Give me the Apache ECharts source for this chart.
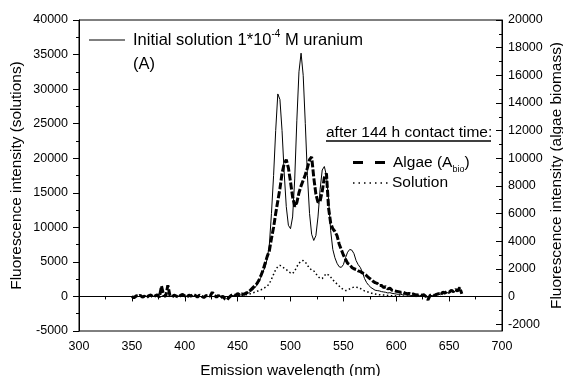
<!DOCTYPE html>
<html>
<head>
<meta charset="utf-8">
<script src="https://cdn.jsdelivr.net/npm/echarts@6/dist/echarts.min.js"></script>
<style>
html,body{margin:0;padding:0;background:#fff;}
#chart{width:563px;height:376px;}
</style>
</head>
<body>
<div id="chart"></div>
<script>
// ---- data ----
// Algae (A_bio), right axis units, sampled every 2 nm from 350 nm
const algaeStart = 350, algaeStep = 2;
const algaeValues = [
  0, -100, 50, 0, 80, -50, 20, -80, 60, 100,
  -30, 40, 120, -60, 750, 100, 0, 800, 60, -40,
  100, 30, -60, 80, 150, 40, -50, 100, 20, 150,
  60, -40, 90, 10, -80, 50, 80, 20, 300, 100,
  -50, 80, -120, 30, -180, -250, -60, 80, 150, 60,
  200, 120, 180,
  150, 250, 300, 450, 600, 750, 900, 1150, 1500, 1900,
  2400, 2900, 3300, 4200, 5000, 6000, 6900, 7800, 8900, 9600,
  9900, 9300, 8300, 7200, 6500, 6800, 7500, 8000, 8400, 8800,
  9300, 9900, 10100, 8600, 7400, 6800, 6900, 7600, 8600, 8900,
  6400, 5300, 4900, 4700, 4400, 3800, 3400, 3000, 2700, 2400,
  2300, 2100, 2000, 1950, 1850, 1800, 1700, 1650, 1500, 1350,
  1250, 1100, 1000, 950, 800, 800, 650, 700, 550, 600,
  450, 420, 380,
  350, 300, 320, 250, 200, 220, 150, 180, 120, 100,
  150, 80, 120, 0, -250, 80, 100, 60, 150, 200,
  120, 300, 250, 350, 300, 450, 350, 500, 400, 650, 200
];
// Initial solution 1*10^-4 M uranium, left axis units, every 2 nm from 440 nm
const initialStart = 440, initialStep = 2;
const initialValues = [
  -200, 0, 100, 150, 100, 200, 200, 250, 300, 400,
  500, 700, 900, 1200, 1600, 2100, 2800, 3600, 4200, 5500,
  7500, 12000, 17500, 24000, 29300, 28500, 24000, 18000, 13000, 10300,
  9800, 11500, 17000, 25500, 32500, 35200, 32000, 25000, 17500, 12000,
  9000, 8100, 8800, 11500, 15500, 18300, 18800, 17500, 14000, 9500,
  6800, 5600, 4800, 4300, 4200, 4600, 5600, 6400, 6800, 6700,
  6200, 5200, 4600, 4200, 3500, 2600, 2000, 1600, 1300, 1100,
  900, 850, 800, 700, 650, 600, 500, 550, 450, 400,
  350, 300, 300, 250, 250, 200, 200, 150, 150, 100,
  100, 150, 100, 100, 50, -300, 100, 150, 100, 200,
  300, 250, 450, 400, 550, 500, 700, 600, 800, 700,
  1100, 400
];
// Solution after 144 h, left axis units, every 2 nm from 450 nm
const solutionStart = 450, solutionStep = 2;
const solutionValues = [
  100, 120, 150, 200, 250, 300, 400, 500, 600, 700,
  850, 950, 1100, 1300, 1500, 1850, 2500, 3200, 3900, 4300,
  4500, 4300, 4100, 3900, 3600, 3400, 3300, 3700, 4300, 4800,
  5100, 5200, 5000, 4500, 4100, 3800, 3700, 3300, 2900, 2600,
  2600, 3000, 3300, 3100, 2800, 2400, 2100, 1800, 1500, 1200,
  1000, 850, 900, 1100, 1250, 1350, 1350, 1300, 1150, 950,
  800, 700, 600, 500, 400, 350, 300, 250, 220, 200,
  180, 150, 130, 100, 90, 80, 70, 60, 50, 40,
  30, 30, 20, 20, 10, 0
];
// axis ticks
const xTicks = [300, 350, 400, 450, 500, 550, 600, 650, 700];
const leftTicks = [-5000, 0, 5000, 10000, 15000, 20000, 25000, 30000, 35000, 40000];
const rightTicks = [-2000, 0, 2000, 4000, 6000, 8000, 10000, 12000, 14000, 16000, 18000, 20000];
const rightMinorTicks = [-1000, 1000, 3000, 5000, 7000, 9000, 11000, 13000, 15000, 17000, 19000];

function toPairs(start, step, values) {
  return values.map((v, i) => [start + i * step, v]);
}
const plain = v => String(v);

const FONT = '"Liberation Sans", Arial, sans-serif';
const chart = echarts.init(document.getElementById('chart'), null, {renderer: 'canvas'});

chart.setOption({
  animation: false,
  backgroundColor: '#fff',
  grid: {left: 79, right: 61, top: 20, bottom: 45, containLabel: false, outerBoundsMode: 'none',
    show: true, borderColor: '#000', borderWidth: 1, backgroundColor: 'transparent'},
  textStyle: {fontFamily: FONT},
  xAxis: {
    type: 'value', min: xTicks[0], max: xTicks[xTicks.length - 1], interval: 50,
    name: 'Emission wavelength (nm)', nameLocation: 'middle', nameGap: 32, nameMoveOverlap: false,
    nameTextStyle: {fontSize: 15.4, color: '#000', fontFamily: FONT},
    axisLine: {lineStyle: {color: '#000', width: 1}},
    axisTick: {show: true, length: 5, lineStyle: {color: '#000'}},
    minorTick: {show: true, splitNumber: 2, length: 3, lineStyle: {color: '#000'}},
    splitLine: {show: false},
    axisLabel: {fontSize: 12.5, color: '#000', margin: 9, fontFamily: FONT, formatter: plain}
  },
  yAxis: [
    {
      type: 'value', position: 'left', min: leftTicks[0], max: leftTicks[leftTicks.length - 1], interval: 5000,
      name: 'Fluorescence intensity (solutions)', nameLocation: 'middle', nameGap: 55, nameRotate: 90, nameMoveOverlap: false,
      nameTextStyle: {fontSize: 15.4, color: '#000', fontFamily: FONT},
      axisLine: {show: true, lineStyle: {color: '#000', width: 1}},
      axisTick: {show: true, length: 6, lineStyle: {color: '#000'}},
      minorTick: {show: true, splitNumber: 2, length: 3, lineStyle: {color: '#000'}},
      splitLine: {show: false},
      axisLabel: {fontSize: 12.5, color: '#000', margin: 11, fontFamily: FONT, formatter: plain}
    },
    {
      type: 'value', position: 'right', min: -2500, max: 20000,
      name: 'Fluorescence intensity (algae biomass)', nameLocation: 'middle', nameGap: 47, nameRotate: 90, nameMoveOverlap: false,
      nameTextStyle: {fontSize: 15.4, color: '#000', fontFamily: FONT},
      axisLine: {show: true, lineStyle: {color: '#000', width: 1}},
      axisTick: {show: true, inside: true, length: 6, customValues: rightTicks, lineStyle: {color: '#000'}},
      splitLine: {show: false},
      axisLabel: {fontSize: 12.5, color: '#000', margin: 6, customValues: rightTicks, fontFamily: FONT, formatter: plain}
    },
    {
      type: 'value', position: 'right', min: -2500, max: 20000,
      axisLine: {show: false},
      axisTick: {show: true, inside: true, length: 3, customValues: rightMinorTicks, lineStyle: {color: '#000'}},
      splitLine: {show: false},
      axisLabel: {show: false, customValues: rightMinorTicks}
    }
  ],
  series: [
    {
      name: 'Initial solution', type: 'line', yAxisIndex: 0, showSymbol: false, symbol: 'none',
      data: toPairs(initialStart, initialStep, initialValues),
      lineStyle: {color: '#000', width: 1}, z: 2
    },
    {
      name: 'Algae', type: 'line', yAxisIndex: 1, showSymbol: false, symbol: 'none',
      data: toPairs(algaeStart, algaeStep, algaeValues),
      lineStyle: {color: '#000', width: 3, type: [7, 2]}, z: 3
    },
    {
      name: 'Solution', type: 'line', yAxisIndex: 0, showSymbol: false, symbol: 'none',
      data: toPairs(solutionStart, solutionStep, solutionValues),
      lineStyle: {color: '#000', width: 1.5, type: [1.5, 2.5]}, z: 4
    }
  ],
  graphic: [
    {type: 'line', shape: {x1: 89, y1: 40, x2: 125, y2: 40}, style: {stroke: '#000', lineWidth: 1}},
    {type: 'text', style: {x: 133, y: 40, verticalAlign: 'middle', align: 'left',
      text: '{m|Initial solution 1*10}{s|-4}{m| M uranium}',
      rich: {
        m: {fontSize: 16.5, fontFamily: FONT, fill: '#000', lineHeight: 22},
        s: {fontSize: 10, fontFamily: FONT, fill: '#000', lineHeight: 10, verticalAlign: 'top'}
      }}},
    {type: 'text', style: {x: 133, y: 64, verticalAlign: 'middle', align: 'left', text: '(A)', fontSize: 16.5, fontFamily: FONT, fill: '#000'}},
    {type: 'text', style: {x: 326, y: 133, verticalAlign: 'middle', align: 'left', text: 'after 144 h contact time:', fontSize: 15.5, fontFamily: FONT, fill: '#000'}},
    {type: 'line', shape: {x1: 326, y1: 141, x2: 491, y2: 141}, style: {stroke: '#000', lineWidth: 1.5}},
    {type: 'line', shape: {x1: 353, y1: 162.5, x2: 387, y2: 162.5}, style: {stroke: '#000', lineWidth: 3, lineDash: [10, 12]}},
    {type: 'text', style: {x: 393, y: 163, verticalAlign: 'middle', align: 'left',
      text: '{m|Algae (A}{b|bio}{m|)}',
      rich: {
        m: {fontSize: 15.5, fontFamily: FONT, fill: '#000', lineHeight: 22},
        b: {fontSize: 9, fontFamily: FONT, fill: '#000', lineHeight: 10, verticalAlign: 'bottom'}
      }}},
    {type: 'line', shape: {x1: 353, y1: 183, x2: 388, y2: 183}, style: {stroke: '#000', lineWidth: 1.5, lineDash: [1.5, 4]}},
    {type: 'text', style: {x: 392, y: 183, verticalAlign: 'middle', align: 'left', text: 'Solution', fontSize: 15.5, fontFamily: FONT, fill: '#000'}}
  ]
});
</script>
</body>
</html>
